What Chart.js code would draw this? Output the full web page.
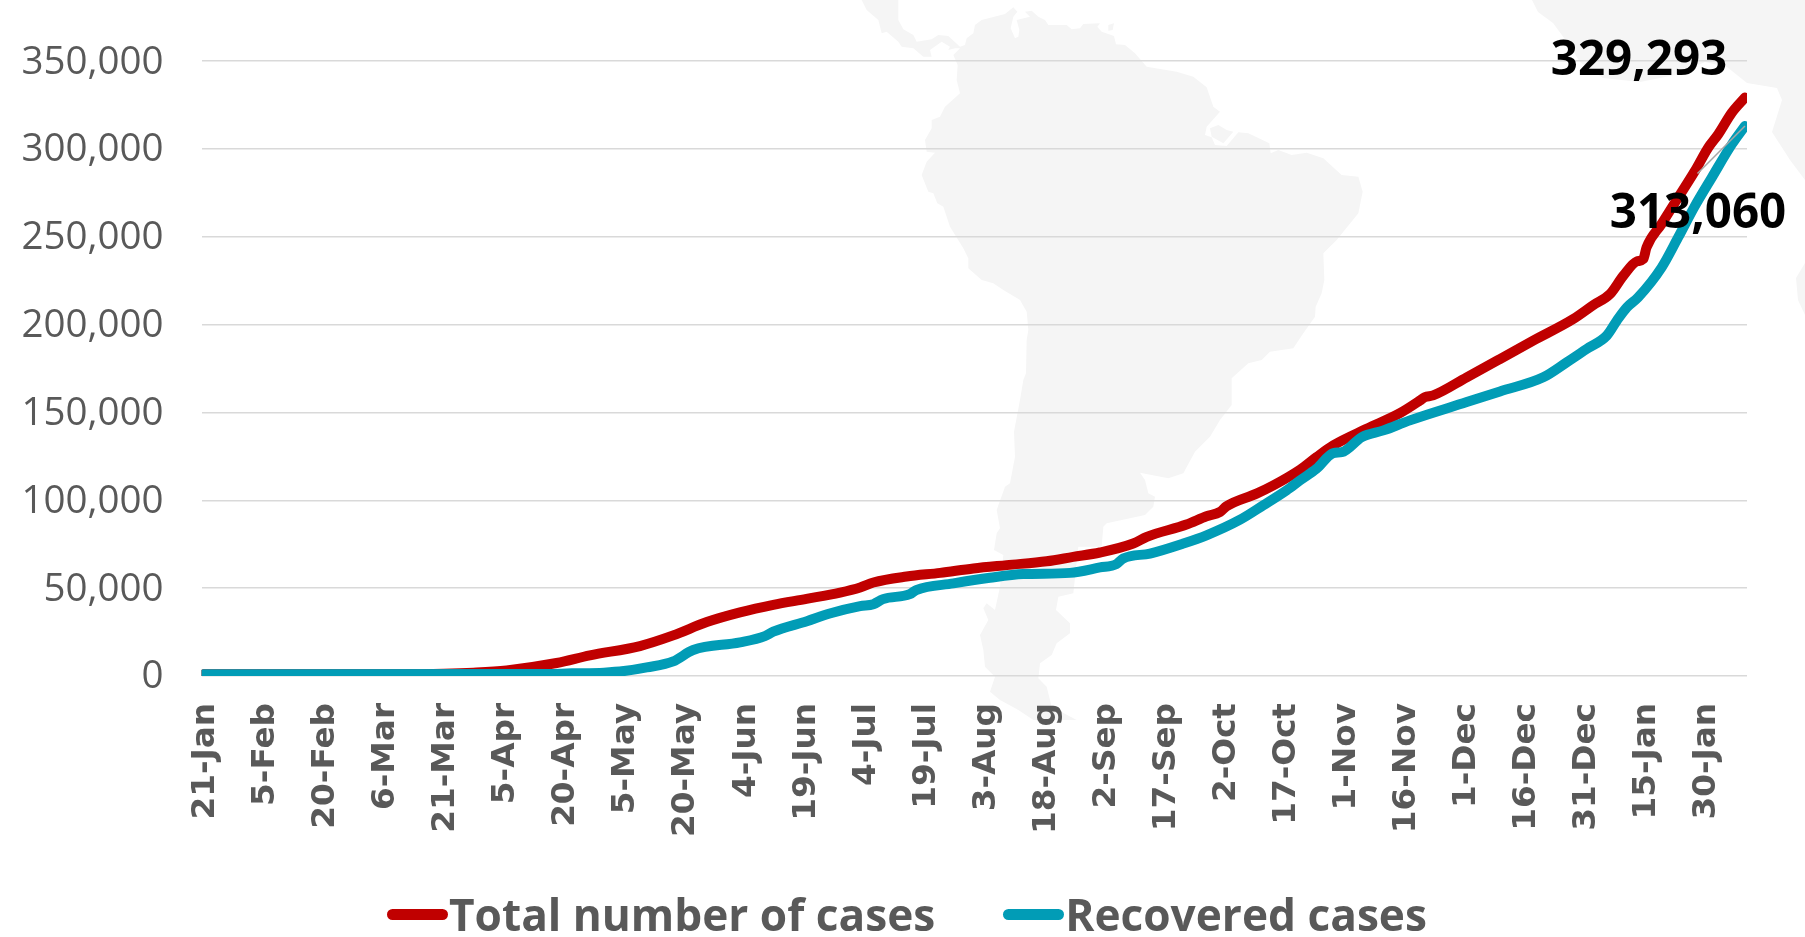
<!DOCTYPE html>
<html>
<head>
<meta charset="utf-8">
<title>Total and recovered cases</title>
<script src="https://cdn.jsdelivr.net/npm/chart.js@4/dist/chart.umd.min.js"></script>
<style>
  html, body { margin: 0; background: #fff; overflow: hidden; }
  #wrap { position: relative; width: 1805px; height: 937px; }
  #map, #myChart { position: absolute; left: 0; top: 0; }
  #legend { position: absolute; left: 387px; top: 885px; display: flex; align-items: center; height: 58px;
    font: 700 44.2px "Open Sans", sans-serif; color: #595959; white-space: nowrap; }
  #legend i { display: inline-block; width: 61px; height: 11px; border-radius: 6px; margin-right: 1px; }
  #legend span { margin-right: 68px; }
</style>
</head>
<body>
<div id="wrap">
  <!-- faint map behind the chart -->
  <svg id="map" width="1805" height="937" viewBox="0 0 1805 937">
    <g fill="#f5f5f5">
      <g transform="translate(860 0) scale(0.33333)">
        <polygon points="5,0 115,0 115,60 130,88 160,105 170,125 215,118 235,105 265,108 300,140 315,135 320,115 340,100 345,75 365,60 435,42 460,22 472,35 460,50 452,85 465,115 475,110 478,90 470,60 510,50 495,35 515,32 535,50 555,60 565,75 620,75 635,88 660,85 670,72 720,70 712,80 725,95 762,108 768,133 795,135 825,160 860,200 950,215 1000,230 1040,262 1060,320 1080,335 1040,380 1035,405 1055,412 1065,435 1100,438 1135,397 1165,400 1228,430 1232,460 1255,450 1295,465 1340,458 1390,475 1445,525 1495,530 1508,575 1495,640 1430,720 1390,760 1393,840 1385,880 1367,920 1365,950 1330,1000 1300,1045 1230,1055 1205,1080 1165,1090 1115,1135 1115,1215 1080,1260 1050,1310 1005,1355 970,1420 925,1435 840,1418 855,1440 865,1480 885,1490 880,1520 855,1545 740,1570 730,1580 725,1640 655,1640 640,1780 595,1790 588,1830 630,1870 630,1900 590,1930 575,1965 540,1990 535,2035 560,2060 575,2120 650,2160 520,2160 475,2130 420,2100 390,2075 405,2030 375,2000 370,1950 360,1905 385,1860 370,1825 380,1810 405,1830 420,1760 430,1665 402,1650 410,1600 420,1585 410,1530 435,1460 450,1450 465,1370 462,1295 480,1200 490,1140 498,1120 500,1020 505,990 500,935 480,900 430,870 400,850 365,840 325,805 325,775 310,745 270,680 250,620 232,610 220,580 205,575 185,525 200,485 225,458 200,455 195,420 215,385 215,360 240,350 255,320 300,280 290,240 293,195 280,165 300,145 285,145 265,150 270,140 245,125 210,150 215,170 190,170 160,145 125,140 115,125 80,95 65,100 55,60 20,30"/>
        <polygon points="1050,385 1075,375 1100,390 1120,395 1090,430 1055,410"/>
        <polygon points="745,75 762,70 758,90 745,92"/>
      </g>
      <polygon points="1532,0 1538,12 1553,23 1567,42 1580,62 1603,78 1640,82 1675,75 1705,62 1727,67 1747,83 1777,88 1782,100 1772,132 1790,160 1805,180 1805,0"/>
      <polygon points="1805,263 1796,278 1798,300 1805,315"/>
    </g>
  </svg>
  <canvas id="myChart" width="1805" height="937"></canvas>
  <div id="legend"></div>
</div>
<script>
// ticks sit every 15 days, day 0 = 21-Jan
const tickLabels = ['21-Jan', '5-Feb', '20-Feb', '6-Mar', '21-Mar', '5-Apr', '20-Apr', '5-May', '20-May',
  '4-Jun', '19-Jun', '4-Jul', '19-Jul', '3-Aug', '18-Aug', '2-Sep', '17-Sep', '2-Oct', '17-Oct', '1-Nov',
  '16-Nov', '1-Dec', '16-Dec', '31-Dec', '15-Jan', '30-Jan'];
const tickStep = 15;

// values, day = days since 21-Jan
const totalDays = [0, 50, 60, 67.4, 75.7, 88.2, 96.5, 109, 117.3, 125.7, 134, 142.3, 150.6, 159, 164, 167.3,
  175.6, 184, 192.3, 200.6, 210.6, 217.2, 223.9, 232.2, 235.6, 245.5, 250.5, 253.9, 255.5, 263, 267.2, 273.9,
  278, 282.2, 290.5, 298.8, 303.8, 305, 307.1, 315.5, 323.8, 332.1, 342.1, 347.1, 351.3, 354.6, 358, 359.6,
  360.4, 364.2, 368.3, 372.5, 375.8, 378.3, 381.7, 385];
const totalCases = [1000, 1000, 1300, 1900, 3200, 7400, 11750, 17050, 23100, 30700, 36200, 40500, 43900, 47500,
  50400, 53200, 56600, 58700, 61200, 63100, 65300, 67800, 70300, 75400, 79200, 86200, 90900, 93400, 96600,
  103800, 108500, 117500, 124600, 131300, 140700, 149600, 156800, 158700, 159700, 170000, 180400, 190900,
  203200, 211100, 217400, 227800, 236000, 237300, 243900, 257400, 272300, 287500, 300700, 308300, 320600, 329293];

const recoveredDays = [0, 84, 92, 100, 105, 110.7, 117.3, 122.3, 134, 140.2, 142.3, 150.7, 156.4, 164, 167.3,
  169.7, 176.4, 178, 187.3, 196.4, 204.7, 216.4, 223.9, 228, 229.7, 236.4, 244.7, 250.5, 258.9, 264.7, 270.5,
  273.9, 278, 282.2, 284.3, 289.3, 294.7, 301.3, 315.5, 323.8, 334.6, 340.5, 345.5, 350.5, 353, 355.5, 358.3,
  364.2, 368.3, 372.5, 376.7, 381.7, 385];
const recoveredCases = [1000, 1100, 1500, 1900, 2800, 4900, 8300, 14800, 19100, 22700, 25200, 31200, 35600, 39800,
  40900, 43750, 46600, 48900, 52700, 55900, 58000, 58700, 61800, 63700, 66900, 69700, 75400, 80100, 89000, 97200,
  105700, 111400, 118000, 126900, 127400, 136000, 139800, 145500, 155900, 162000, 170000, 178600, 186200, 193800,
  202300, 209800, 215500, 232600, 249600, 267600, 283700, 302600, 313060];

const endLabels = [
  {text: '329,293', dx: -106, dy: -36, leader: false},
  {text: '313,060', dx: -47, dy: 88, leader: true}
];

const toPoints = (days, vals) => days.map((d, i) => ({x: d, y: vals[i]}));

// last-point labels, placed from the scales, leader line for the second one
const endLabelPlugin = {
  id: 'endLabels',
  afterDatasetsDraw(chart) {
    const c = chart.ctx;
    c.save();
    chart.data.datasets.forEach((ds, i) => {
      const pts = chart.getDatasetMeta(i).data;
      const last = pts[pts.length - 1];
      const lab = endLabels[i];
      if (lab.leader) {
        c.strokeStyle = '#a6a6a6';
        c.lineWidth = 1.5;
        c.beginPath();
        c.moveTo(last.x, last.y);
        c.lineTo(last.x - 47.5, last.y + 47.5);
        c.stroke();
      }
      c.font = '700 47.5px "Open Sans", sans-serif';
      c.fillStyle = '#000';
      c.textAlign = 'center';
      c.textBaseline = 'middle';
      c.fillText(lab.text, last.x + lab.dx, last.y + lab.dy);
    });
    c.restore();
  }
};

const ctx = document.getElementById('myChart').getContext('2d');
const chart = new Chart(ctx, {
  type: 'line',
  data: {
    datasets: [
      {label: 'Total number of cases', data: toPoints(totalDays, totalCases), borderColor: '#c00000', backgroundColor: '#c00000', order: 2},
      {label: 'Recovered cases', data: toPoints(recoveredDays, recoveredCases), borderColor: '#019cb6', backgroundColor: '#019cb6', order: 1}
    ]
  },
  options: {
    responsive: false,
    animation: false,
    layout: {padding: {top: 60, right: 58, bottom: 0, left: 0}},
    elements: {
      point: {radius: 0},
      line: {borderWidth: 10, borderCapStyle: 'round', borderJoinStyle: 'round', cubicInterpolationMode: 'monotone'}
    },
    plugins: {legend: {display: false}, tooltip: {enabled: false}},
    scales: {
      x: {
        type: 'linear',
        min: -0.5,
        max: 385.5,
        grid: {display: false},
        border: {display: false},
        afterBuildTicks: (scale) => { scale.ticks = tickLabels.map((_, i) => ({value: i * tickStep})); },
        afterFit: (scale) => { scale.height = 261; },
        ticks: {
          autoSkip: false,
          minRotation: 90,
          maxRotation: 90,
          padding: 19,
          labelOffset: 2,
          color: '#595959',
          font: {family: '"DejaVu Sans"', weight: 'bold', size: 32.7},
          callback: (v, i) => tickLabels[i]
        }
      },
      y: {
        min: 0,
        max: 350000,
        grid: {color: '#d9d9d9', lineWidth: 1.5, drawTicks: false},
        border: {display: false},
        afterFit: (scale) => { scale.width = 201.5; },
        ticks: {
          stepSize: 50000,
          padding: 38,
          labelOffset: 1.5,
          color: '#595959',
          font: {family: '"Open Sans"', size: 38.5},
          callback: (v) => v.toLocaleString('en-US')
        }
      }
    }
  },
  plugins: [endLabelPlugin]
});

// legend swatches sit right against the text, so it is built by hand
const legend = document.getElementById('legend');
chart.data.datasets.forEach((ds) => {
  const sw = document.createElement('i');
  sw.style.background = ds.borderColor;
  const txt = document.createElement('span');
  txt.textContent = ds.label;
  legend.append(sw, txt);
});
</script>
</body>
</html>
